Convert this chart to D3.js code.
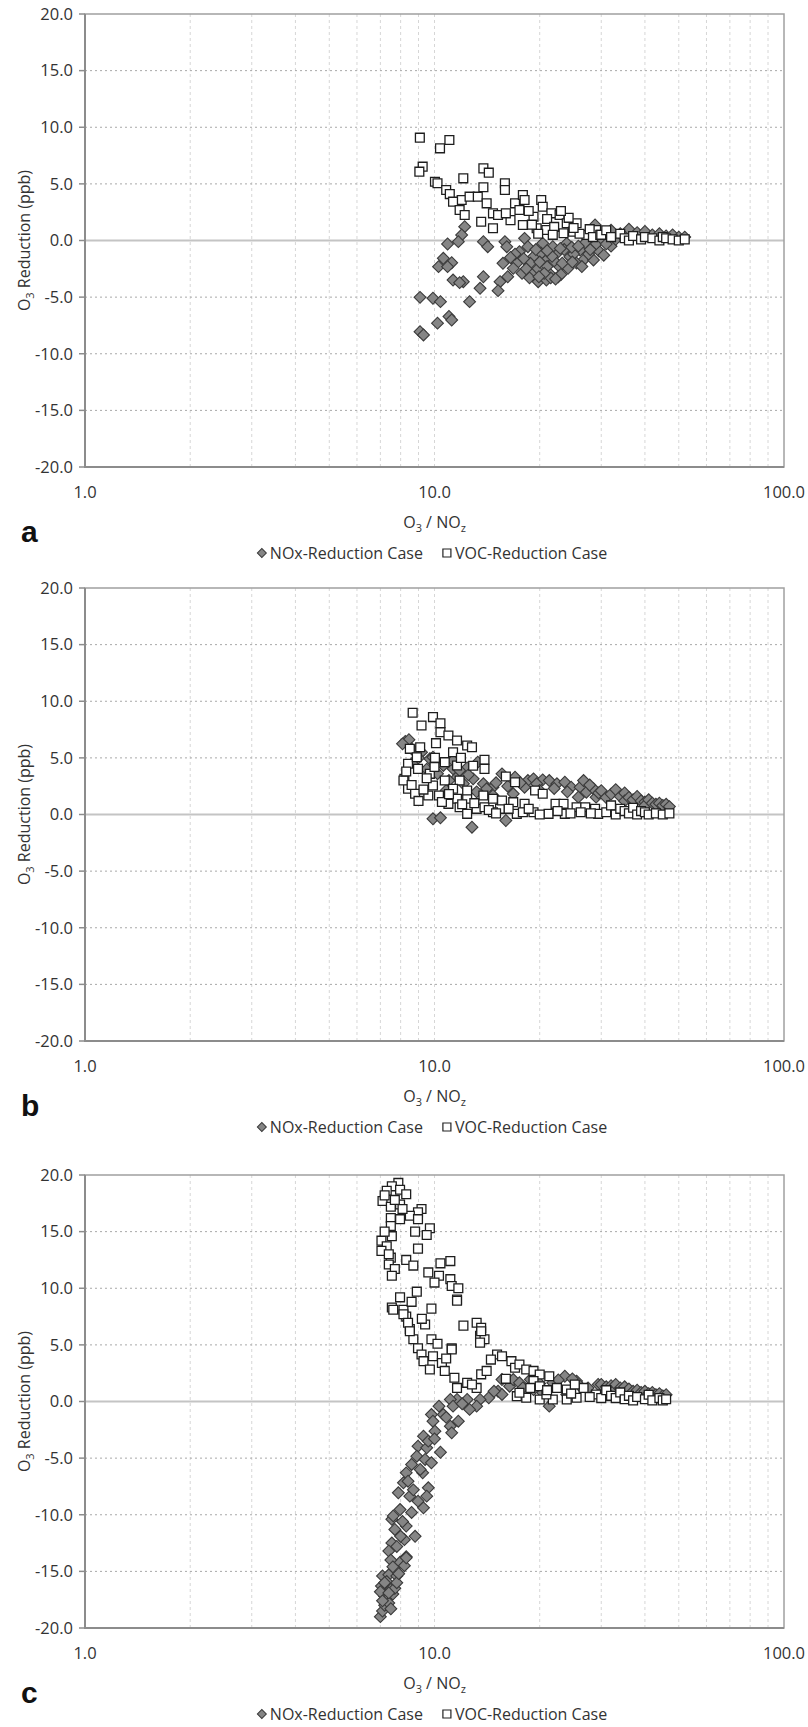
<!DOCTYPE html>
<html lang="en">
<head>
<meta charset="UTF-8">
<title>O3 reduction vs O3/NOz</title>
<style>
  body { margin: 0; background: #fff; }
  svg text { font-family: "Open Sans", "Noto Sans", sans-serif; }
</style>
</head>
<body>
<div id="chart"></div>
<script src="https://d3js.org/d3.v7.min.js"></script>
<script>
// ---- data (O3/NOz ratio, O3 reduction ppb) ----
var xTicks = [1, 10, 100];
var yTicks = [-20, -15, -10, -5, 0, 5, 10, 15, 20];
var panelLabels = ["a", "b", "c"];
var legendLabels = ["NOx-Reduction Case", "VOC-Reduction Case"];

var noxA = [[12.2,1.22],[11.96,0.49],[11.7,-0.1],[10.9,-0.31],[10.6,-1.57],[11.2,-1.96],[10.27,-2.31],[10.9,-2.31],
  [11.3,-3.49],[12.09,-3.64],[11.8,-3.72],[13.8,-3.2],[13.5,-4.22],[12.6,-5.4],[9.09,-5.02],[9.9,-5.1],[10.4,-5.4],
  [10.2,-7.3],[11.0,-6.7],[11.2,-7.02],[9.09,-8.05],[9.3,-8.34],[13.8,-0.1],[14.2,-0.55],[15.9,-0.1],[16.1,-0.55],
  [15.7,-2.01],[15.4,-3.64],[15.2,-4.43],[16.2,-3.2],[18.1,0.19],[17.5,-0.99],[17.2,-2.01],[17.8,-2.9],[19.2,-1.43],
  [19.6,-2.6],[19.8,-3.64],[20.4,-0.25],[20.9,-1.72],[21.3,-2.9],[20.9,-3.49],[22.4,-1.13],[22.8,-2.31],[22.6,-3.2],
  [23.9,-0.25],[24.4,-1.43],[24.1,-2.46],[26.1,-0.84],[26.7,-1.72],[28.1,-0.55],[28.5,-1.72],[28.8,1.37],[18.8,-2.01],
  [18.5,-0.55],[16.8,-2.46],[20.2,-1.13],[21.8,-0.55],[18.0,-1.6],[19.0,-3.0],[21.0,-2.3],[22.0,-1.8],[23.0,-3.0],
  [25.0,-1.2],[25.5,-2.0],[27.0,-0.2],[29.5,-0.9],[30.5,-1.3],[32,-0.5],[23.5,-0.8],[20.0,-1.9],[18.7,-3.3],[21.5,-3.3],
  [17.0,-1.2],[18.3,-2.5],[19.5,-0.8],[20.6,-2.9],[21.7,-1.4],[22.2,-3.4],[23.2,-2.0],[24.7,-0.6],[25.8,-0.5],
  [26.4,-2.3],[27.6,-1.2],[29.0,-0.3],[19.9,-3.2],[22.9,-0.7],[24.8,-1.9],[27.9,-0.8],[16.5,-1.5],[21.0,-0.9],
  [30,0.2],[31,-0.3],[32,0.9],[33,0.1],[34,0.6],[36,1.0],[38,0.7],[40,0.8],[42,0.5],[44,0.6],[46,0.4],[48,0.5],
  [50,0.3],[52,0.3]];

var vocA = [[9.08,9.08],[11.03,8.87],[10.37,8.14],[9.25,6.52],[9.05,6.08],[10.03,5.19],[10.2,5.05],[12.09,5.49],
  [13.8,6.37],[14.3,5.99],[13.8,4.7],[10.8,4.46],[11.06,4.1],[11.96,3.58],[11.3,3.43],[11.8,2.69],[12.2,2.25],
  [12.6,3.87],[13.3,3.87],[14.1,3.28],[13.6,1.66],[14.7,2.4],[15.2,2.25],[14.7,1.08],[15.9,5.05],[15.9,4.46],
  [17.0,3.28],[17.9,4.02],[18.1,3.58],[17.5,2.69],[17.9,1.37],[19.2,2.1],[20.2,3.58],[20.4,2.98],[19.6,1.08],
  [20.9,0.93],[21.6,2.4],[22.8,2.25],[23.9,1.52],[23.4,0.64],[24.9,0.78],[27.2,0.49],[25.5,1.52],[29.0,0.93],
  [16.5,1.8],[18.6,2.6],[19.8,0.6],[21.0,1.9],[22.0,1.2],[24.2,2.0],[26.0,0.6],[27.8,1.0],[28.4,0.3],[25.0,1.1],
  [23.0,2.6],[19.0,1.4],[16.0,2.4],[29.8,0.5],[21.8,0.5],
  [30,0.5],[31,0.9],[32,0.3],[34,0.6],[35,0.2],[36,0.0],[37,0.4],[39,0.1],[40,0.3],[42,0.2],[44,0.0],[45,0.3],
  [46,0.2],[48,0.1],[50,0.0],[52,0.1]];

var noxB = [[8.25,6.45],[8.45,6.6],[8.1,6.24],[9.18,5.5],[11.3,4.03],[12.4,4.12],[11.6,3.3],[12.9,3.15],[12.1,2.71],
  [13.8,2.71],[14.7,2.41],[14.1,2.27],[15.6,3.59],[17.0,3.3],[18.5,3.0],[19.2,3.15],[20.4,3.06],[21.3,3.0],[22.4,2.71],
  [23.6,2.85],[24.6,2.41],[26.1,2.41],[27.2,1.97],[28.5,2.27],[29.0,1.53],[25.8,1.53],[18.1,2.41],[19.6,2.71],
  [16.8,1.83],[14.7,1.68],[9.9,-0.38],[10.4,-0.29],[12.8,-1.12],[16.0,-0.53],[11.3,4.77],[10.6,4.33],[9.7,4.92],
  [13.3,4.62],[11.8,3.89],[9.9,5.06],[8.7,4.62],[10.8,2.12],[26.7,3.0],[20.0,2.12],
  [9.0,5.0],[9.5,4.0],[10.2,3.6],[11.0,3.0],[12.5,3.5],[13.2,2.0],[15.0,2.8],[16.2,2.5],[17.6,2.8],[22.0,2.3],
  [24.0,2.0],[27.8,2.6],[29.5,1.9],[8.6,5.8],
  [30,2.1],[31,1.5],[32,1.8],[33,2.2],[34,1.6],[35,1.9],[35,1.2],[36,1.5],[37,1.3],[38,1.6],[39,1.2],[40,1.1],
  [40,0.8],[41,1.3],[42,1.0],[43,0.9],[44,1.0],[45,0.8],[46,0.9],[47,0.7]];

var vocB = [[8.66,8.98],[9.18,7.86],[9.9,8.6],[10.4,8.06],[10.4,7.27],[10.96,6.98],[11.6,6.53],[12.4,6.09],[12.8,5.94],
  [10.1,6.3],[9.1,5.94],[8.5,5.8],[11.3,5.5],[10.03,5.0],[10.7,4.62],[13.9,4.83],[13.9,4.03],[11.6,4.33],[8.4,4.48],
  [8.97,4.03],[8.2,3.15],[8.4,2.27],[8.15,3.0],[9.9,2.56],[10.7,3.0],[8.8,1.83],[9.6,1.68],[10.3,1.68],[11.6,1.39],
  [12.4,1.39],[13.8,1.68],[10.96,0.94],[11.8,0.64],[12.4,0.06],[13.2,0.5],[13.9,0.64],[14.7,1.39],[15.4,0.5],
  [16.0,3.36],[17.0,2.85],[16.8,1.09],[17.2,0.06],[18.1,0.94],[19.4,2.12],[20.4,1.83],[19.2,0.2],[21.2,0.06],
  [22.2,0.94],[23.6,0.06],[23.4,0.94],[25.5,0.64],[27.0,0.64],[28.8,0.5],[29.4,0.06],[11.8,3.0],[12.4,2.12],
  [11.3,2.27],[9.7,3.59],[8.9,5.06],[15.6,1.24],[14.7,0.2],[17.9,0.2],
  [8.3,3.8],[8.6,2.6],[9.3,2.2],[9.5,3.2],[10.0,4.2],[10.5,1.1],[11.0,1.8],[12.0,0.9],[13.0,1.0],[14.3,0.4],
  [15.0,0.1],[16.3,0.5],[18.6,0.5],[20.0,0.0],[22.5,0.3],[24.5,0.1],[26.2,0.2],[28.0,0.1],[9.0,1.2],[12.9,4.3],
  [11.9,5.0],
  [31,0.2],[32,0.8],[33,0.0],[34,0.5],[35,0.3],[36,0.1],[37,0.6],[38,0.0],[39,0.3],[40,0.2],[41,0.0],[43,0.1],
  [45,0.0],[47,0.1]];

var noxC = [[15.6,1.94],[15.2,0.91],[15.6,0.62],[16.4,1.35],[16.8,1.94],[17.5,1.65],[18.8,1.94],[19.2,1.06],[20.4,0.77],
  [21.3,-0.41],[21.8,1.65],[23.6,2.23],[25.5,1.8],[26.1,1.35],[23.9,0.62],[29.4,1.5],[14.3,0.33],[13.5,0.18],
  [13.2,-0.41],[12.6,-0.7],[12.4,0.18],[11.6,0.18],[11.1,0.18],[11.3,-0.41],[10.3,-0.41],[9.8,-1.15],[10.6,-1.15],
  [9.9,-1.74],[10.03,-2.62],[11.1,-2.18],[11.7,-1.74],[11.2,-2.77],[9.3,-3.06],[8.97,-3.95],[9.5,-4.09],[8.9,-4.83],
  [9.4,-5.12],[9.8,-5.41],[10.4,-4.48],[8.6,-5.56],[8.3,-6.3],[9.25,-6.3],[8.15,-7.18],[8.4,-7.04],[7.88,-8.06],
  [8.5,-8.36],[9.6,-7.62],[9.5,-8.36],[8.97,-8.8],[9.3,-9.39],[7.97,-9.54],[7.55,-10.4],[7.62,-10.1],[8.3,-11.0],
  [7.7,-11.3],[8.8,-11.9],[8.2,-12.2],[7.55,-12.5],[7.4,-13.2],[8.3,-13.7],[7.97,-14.2],[7.5,-14.0],[7.1,-15.4],
  [7.4,-15.3],[7.8,-15.4],[7.3,-15.9],[7.05,-16.3],[7.5,-16.6],[7.2,-17.2],[7.0,-19.0],[7.1,-18.5],[7.2,-18.0],
  [7.3,-17.5],[7.4,-17.8],[7.5,-18.3],[7.6,-17.0],[7.7,-16.5],[7.8,-16.0],[7.9,-15.2],[8.2,-14.5],[8.3,-13.8],
  [7.0,-16.8],[7.1,-17.6],[7.4,-16.9],
  [7.2,-16.0],[7.6,-14.6],[7.8,-12.8],[8.0,-11.9],[8.1,-10.6],[8.6,-9.8],[8.7,-7.8],[9.1,-6.0],[9.6,-3.5],
  [10.0,-3.3],[10.8,-1.4],[12.0,-0.2],[14.8,0.9],[17.9,1.2],[20.0,1.6],[22.6,1.9],[24.8,2.0],[27.5,1.2],
  [30,1.5],[31,1.3],[31,0.9],[32,1.4],[33,1.1],[33,1.5],[34,1.2],[35,1.0],[35,1.3],[36,1.1],[37,0.9],[38,1.0],
  [39,0.8],[40,0.9],[41,0.7],[42,0.8],[43,0.6],[44,0.7],[45,0.5],[46,0.6]];

var vocC = [[7.88,19.3],[7.55,19.0],[7.3,18.6],[7.97,18.7],[8.3,18.3],[7.1,17.7],[7.5,17.2],[7.97,17.4],[9.18,17.0],
  [8.97,16.7],[8.5,16.4],[7.97,16.1],[7.5,16.2],[8.97,16.1],[7.5,15.5],[8.8,15.0],[9.7,15.3],[9.5,14.7],[7.55,14.6],
  [8.97,13.5],[7.05,14.2],[7.3,13.7],[7.05,13.3],[7.5,12.7],[8.3,12.5],[7.4,12.1],[7.7,11.7],[7.55,11.1],[10.4,12.2],
  [11.1,12.4],[9.6,11.4],[10.3,11.1],[11.1,10.8],[11.2,10.2],[11.7,10.0],[11.6,9.0],[8.9,9.7],[7.97,9.2],[7.55,8.3],
  [8.15,8.1],[8.3,7.5],[9.8,8.2],[9.4,6.8],[8.5,6.4],[8.7,5.5],[9.8,5.5],[8.97,4.7],[12.1,6.7],[13.2,6.95],
  [13.6,6.5],[13.5,5.8],[13.9,5.5],[11.2,4.7],[7.62,8.1],[8.15,7.7],[8.4,6.95],[11.6,8.9],[8.5,6.2],[13.6,6.2],
  [13.5,5.2],[9.18,4.15],[9.9,4.0],[9.3,3.56],[9.7,2.83],[10.5,3.4],[10.7,2.7],[11.2,4.6],[11.4,2.1],[11.6,1.2],
  [12.4,1.65],[13.2,1.2],[13.6,2.4],[14.1,2.7],[15.1,4.15],[15.6,4.0],[16.6,3.56],[17.0,2.98],[17.5,3.27],
  [18.3,2.83],[19.2,2.7],[20.0,2.38],[21.3,2.23],[19.2,1.8],[17.2,0.47],[18.3,0.33],[20.0,0.18],[21.8,0.18],
  [23.9,0.18],[25.5,0.33],[22.4,1.2],[23.9,1.06],[26.7,1.2],[20.0,1.35],[17.5,0.77],[29.0,0.62],[20.9,0.62],
  [7.2,18.2],[7.7,17.8],[8.1,17.0],[7.2,15.0],[7.4,13.0],[8.7,12.0],[10.0,10.5],[8.6,8.8],[9.2,7.3],[10.2,5.1],
  [10.8,3.8],[12.8,1.5],[14.5,3.7],[16.0,2.0],[18.8,1.2],[21.0,1.0],[24.6,0.7],[27.8,0.4],[25.2,1.5],
  [30,0.3],[31,1.0],[32,0.5],[33,0.3],[34,0.8],[35,0.2],[36,0.5],[37,0.1],[38,0.4],[40,0.2],[41,0.6],[42,0.1],
  [44,0.3],[45,0.1],[46,0.2]];

var panels = [
  { label: panelLabels[0], nox: noxA, voc: vocA, top: 14 },
  { label: panelLabels[1], nox: noxB, voc: vocB, top: 588 },
  { label: panelLabels[2], nox: noxC, voc: vocC, top: 1175 }
];

// ---- layout ----
var W = 808, H = 1727;
var left = 85, right = 784, plotH = 453;

var svg = d3.select("#chart").append("svg")
  .attr("width", W)
  .attr("height", H);

var x = d3.scaleLog().domain([1, 100]).range([left, right]);
// plain hyphen for negatives, like the original
var fmt = d3.formatLocale({ decimal: ".", thousands: ",", grouping: [3], currency: ["", ""], minus: "-" }).format(".1f");

var diamond = d3.symbol().type(d3.symbolSquare).size(70);
var square = d3.symbol().type(d3.symbolSquare).size(78);

// O3-style label with small subscripts: parts alternate normal / subscript
function subText(sel, parts) {
  parts.forEach(function (s, i) {
    var t = sel.append("tspan").text(s);
    if (i % 2 === 1) t.attr("dy", 4).style("font-size", "11px");
    else if (i > 0) t.attr("dy", -4);
  });
}

panels.forEach(function (p) {
  var y = d3.scaleLinear().domain([-20, 20]).range([p.top + plotH, p.top]);
  var bottom = p.top + plotH;
  var g = svg.append("g");

  // vertical gridlines at every log tick
  g.selectAll("line.vgrid")
    .data(x.ticks().filter(function (d) { return d > 1 && d < 100; }))
    .enter().append("line")
    .attr("x1", function (d) { return x(d); })
    .attr("x2", function (d) { return x(d); })
    .attr("y1", p.top)
    .attr("y2", bottom)
    .attr("stroke", "#d6d6d6")
    .attr("stroke-width", 1)
    .attr("stroke-dasharray", "3,3");

  // horizontal gridlines
  g.selectAll("line.hgrid")
    .data(yTicks.filter(function (d) { return d > -20 && d < 20 && d !== 0; }))
    .enter().append("line")
    .attr("x1", left)
    .attr("x2", right)
    .attr("y1", function (d) { return y(d); })
    .attr("y2", function (d) { return y(d); })
    .attr("stroke", "#a8a8a8")
    .attr("stroke-width", 1)
    .attr("stroke-dasharray", "2,3");

  // zero line
  g.append("line")
    .attr("x1", left).attr("x2", right)
    .attr("y1", y(0)).attr("y2", y(0))
    .attr("stroke", "#c4c4c4")
    .attr("stroke-width", 2);

  // frame
  g.append("rect")
    .attr("x", left).attr("y", p.top)
    .attr("width", right - left).attr("height", plotH)
    .attr("fill", "none")
    .attr("stroke", "#a0a0a0")
    .attr("stroke-width", 1.5);
  g.append("path")
    .attr("d", "M" + left + "," + p.top + "V" + bottom + "H" + right)
    .attr("fill", "none")
    .attr("stroke", "#8c8c8c")
    .attr("stroke-width", 2);

  // y ticks + labels
  g.selectAll("line.ytick")
    .data(yTicks)
    .enter().append("line")
    .attr("x1", left - 6).attr("x2", left)
    .attr("y1", function (d) { return y(d); })
    .attr("y2", function (d) { return y(d); })
    .attr("stroke", "#8c8c8c")
    .attr("stroke-width", 1.5);
  g.selectAll("text.ylab")
    .data(yTicks)
    .enter().append("text")
    .attr("x", left - 12)
    .attr("y", function (d) { return y(d); })
    .attr("dy", "0.35em")
    .attr("text-anchor", "end")
    .style("font-size", "16.5px")
    .style("fill", "#333")
    .text(function (d) { return fmt(d); });

  // x labels
  g.selectAll("text.xlab")
    .data(xTicks)
    .enter().append("text")
    .attr("x", function (d) { return x(d); })
    .attr("y", bottom + 25)
    .attr("dy", "0.35em")
    .attr("text-anchor", "middle")
    .style("font-size", "16.5px")
    .style("fill", "#333")
    .text(function (d) { return fmt(d); });

  // axis titles
  var xt = g.append("text")
    .attr("x", (left + right) / 2)
    .attr("y", bottom + 55)
    .attr("dy", "0.35em")
    .attr("text-anchor", "middle")
    .style("font-size", "16px")
    .style("fill", "#333");
  subText(xt, ["O", "3", " / NO", "z"]);

  var yt = g.append("text")
    .attr("transform", "translate(24," + y(0) + ") rotate(-90)")
    .attr("dy", "0.35em")
    .attr("text-anchor", "middle")
    .style("font-size", "16px")
    .style("fill", "#333");
  subText(yt, ["O", "3", " Reduction (ppb)"]);

  // panel letter
  g.append("text")
    .attr("x", 21)
    .attr("y", bottom + 75)
    .style("font-family", "'Liberation Sans', Arial, sans-serif")
    .style("font-weight", "bold")
    .style("font-size", "30px")
    .style("fill", "#111")
    .text(p.label);

  // points: NOx diamonds then VOC squares
  g.selectAll("path.nox")
    .data(p.nox)
    .enter().append("path")
    .attr("d", diamond)
    .attr("transform", function (d) { return "translate(" + x(d[0]) + "," + y(d[1]) + ") rotate(45)"; })
    .attr("fill", "#858585")
    .attr("stroke", "#3a3a3a")
    .attr("stroke-width", 1.1);

  g.selectAll("path.voc")
    .data(p.voc)
    .enter().append("path")
    .attr("d", square)
    .attr("transform", function (d) { return "translate(" + x(d[0]) + "," + y(d[1]) + ")"; })
    .attr("fill", "#fff")
    .attr("stroke", "#1e1e1e")
    .attr("stroke-width", 1.3);

  // legend
  var lg = g.append("g");
  var ly = bottom + 86;
  var item1 = lg.append("g");
  item1.append("path")
    .attr("d", d3.symbol().type(d3.symbolSquare).size(40))
    .attr("transform", "translate(0," + ly + ") rotate(45)")
    .attr("fill", "#858585").attr("stroke", "#3a3a3a");
  var t1 = item1.append("text")
    .attr("x", 8).attr("y", ly).attr("dy", "0.35em")
    .style("font-size", "16px").style("fill", "#333")
    .text(legendLabels[0]);
  var item2 = lg.append("g");
  item2.append("path")
    .attr("d", d3.symbol().type(d3.symbolSquare).size(64))
    .attr("transform", "translate(0," + ly + ")")
    .attr("fill", "#fff").attr("stroke", "#222").attr("stroke-width", 1.2);
  var t2 = item2.append("text")
    .attr("x", 8).attr("y", ly).attr("dy", "0.35em")
    .style("font-size", "16px").style("fill", "#333")
    .text(legendLabels[1]);
  var w1 = 8 + t1.node().getComputedTextLength();
  var w2 = 8 + t2.node().getComputedTextLength();
  var gap = 24;
  var total = w1 + gap + w2 + 8;
  var startX = (left + right) / 2 - total / 2 + 4;
  item1.attr("transform", "translate(" + startX + ",0)");
  item2.attr("transform", "translate(" + (startX + w1 + gap) + ",0)");
});
</script>
</body>
</html>
